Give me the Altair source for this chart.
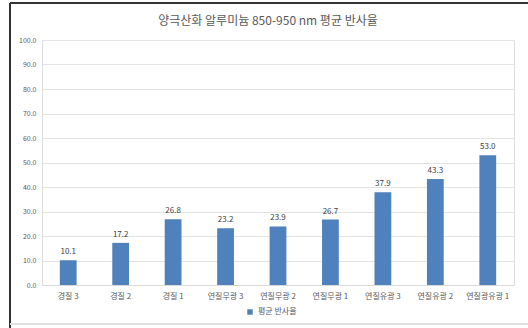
import altair as alt
import pandas as pd

categories = ["경질 3", "경질 2", "경질 1", "연질무광 3", "연질무광 2", "연질무광 1",
              "연질유광 3", "연질유광 2", "연질광유광 1"]
values = [10.1, 17.2, 26.8, 23.2, 23.9, 26.7, 37.9, 43.3, 53.0]
series = "평균 반사율"
y_ticks = [0, 10, 20, 30, 40, 50, 60, 70, 80, 90, 100]

df = pd.DataFrame({"cat": categories, "val": values, "series": [series] * len(categories)})
FONT = "Noto Sans CJK KR"

x = alt.X("cat:N", sort=categories, title=None,
          scale=alt.Scale(paddingInner=0.68, paddingOuter=0.34),
          axis=alt.Axis(labelAngle=0, labelFontSize=8, labelColor="#595959", labelFont=FONT,
                        ticks=False, domainColor="#d9d9d9", labelPadding=7, labelOverlap=False))
y = alt.Y("val:Q", title=None,
          scale=alt.Scale(domain=[0, 100], nice=False),
          axis=alt.Axis(values=y_ticks, format=".1f", labelFontSize=7, labelOverlap=False,
                        labelColor="#595959", labelFont=FONT, ticks=False, domain=False,
                        gridColor="#e3e3e3", labelPadding=6))

base = alt.Chart(df).encode(x=x, y=y)
bars = base.mark_bar(color="#4F81BD").encode(
    color=alt.Color("series:N", scale=alt.Scale(range=["#4F81BD"]),
                    legend=alt.Legend(title=None, orient="none", legendX=204, legendY=268,
                                      symbolType="square", symbolSize=30, labelFontSize=8,
                                      labelFont=FONT, labelColor="#595959", symbolStrokeWidth=0))
)
labels = base.mark_text(dy=-8, fontSize=8, font=FONT, color="#404040").encode(
    text=alt.Text("val:Q", format=".1f")
)
left_border = alt.Chart(df).mark_rule(color="#333333", strokeWidth=1.5).encode(
    x=alt.value(-32), y=alt.value(-37), y2=alt.value(290))
top_border = alt.Chart(df).mark_rule(color="#333333", strokeWidth=1.5).encode(
    x=alt.value(-32), x2=alt.value(490), y=alt.value(-37))
bottom_border = alt.Chart(df).mark_rule(color="#e0e0e0", strokeWidth=1).encode(
    x=alt.value(-32), x2=alt.value(490), y=alt.value(284))

chart = alt.layer(bars, labels, left_border, top_border, bottom_border).properties(
    width=472, height=245,
    autosize=alt.AutoSizeParams(type="none"),
    padding={"left": 42, "top": 40, "right": 14, "bottom": 43},
    title=alt.TitleParams("양극산화 알루미늄 850-950 nm 평균 반사율", fontSize=12, frame="group",
                          font=FONT, fontWeight="normal", color="#595959", offset=-26, dx=-10),
).configure_view(stroke=None).configure(background="white")

chart.save("out.html", embed_options={"renderer": "svg", "actions": False})
